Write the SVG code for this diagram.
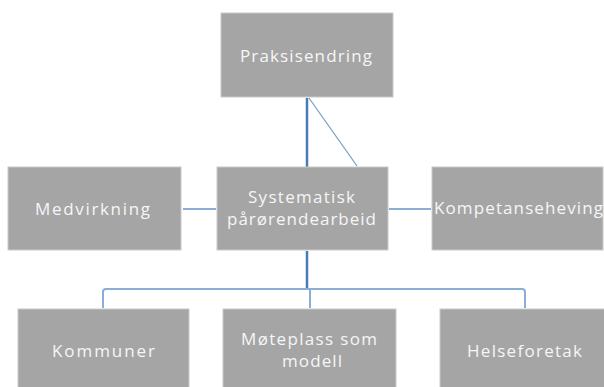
<svg xmlns="http://www.w3.org/2000/svg" width="604" height="387" viewBox="0 0 604 387">
<style>
.box{fill:#a5a5a5;stroke:#c9c9c9;stroke-width:1}
.t{font-family:"Open Sans","Liberation Sans",sans-serif;font-size:17px;fill:#f6f6f6}
.dark{stroke:#4a7ab5;stroke-width:2.5;fill:none}
.light{stroke:#8aaed6;stroke-width:2;fill:none}
.thin{stroke:#7a9fcc;stroke-width:1.3;fill:none}
</style>
<rect width="604" height="387" fill="#ffffff"/>
<g id="connectors">
<line class="dark" x1="307" y1="98" x2="307" y2="167"/>
<line class="thin" x1="309" y1="98" x2="357" y2="166"/>
<line class="light" x1="183" y1="209" x2="216" y2="209"/>
<line class="light" x1="389" y1="209" x2="431" y2="209"/>
<line class="dark" x1="307" y1="251" x2="307" y2="289"/>
<path class="light" d="M103 308 V292 Q103 289 106 289 H522 Q525 289 525 292 V308"/>
<line class="light" x1="310" y1="289" x2="310" y2="308"/>
</g>
<g id="praksisendring">
<rect class="box" x="221" y="13" width="172" height="84"/>
<text class="t" x="240" y="62" textLength="132" lengthAdjust="spacing">Praksisendring</text>
</g>
<g id="medvirkning">
<rect class="box" x="8" y="167" width="173" height="83"/>
<text class="t" x="35" y="215" textLength="115" lengthAdjust="spacing">Medvirkning</text>
</g>
<g id="systematisk">
<rect class="box" x="217" y="167" width="171" height="83"/>
<text class="t" x="248" y="203" textLength="107" lengthAdjust="spacing">Systematisk</text>
<text class="t" x="227" y="225" textLength="149" lengthAdjust="spacing">pårørendearbeid</text>
</g>
<g id="kompetanseheving">
<rect class="box" x="432" y="167" width="171" height="83"/>
<text class="t" x="434" y="214" textLength="169" lengthAdjust="spacing">Kompetanseheving</text>
</g>
<g id="kommuner">
<rect class="box" x="18" y="309" width="171" height="90"/>
<text class="t" x="52" y="357" textLength="103" lengthAdjust="spacing">Kommuner</text>
</g>
<g id="moteplass">
<rect class="box" x="223" y="309" width="173" height="90"/>
<text class="t" x="241" y="345" textLength="136" lengthAdjust="spacing">Møteplass som</text>
<text class="t" x="282" y="367" textLength="60" lengthAdjust="spacing">modell</text>
</g>
<g id="helseforetak">
<rect class="box" x="440" y="309" width="171" height="90"/>
<text class="t" x="467" y="357" textLength="115" lengthAdjust="spacing">Helseforetak</text>
</g>
</svg>
